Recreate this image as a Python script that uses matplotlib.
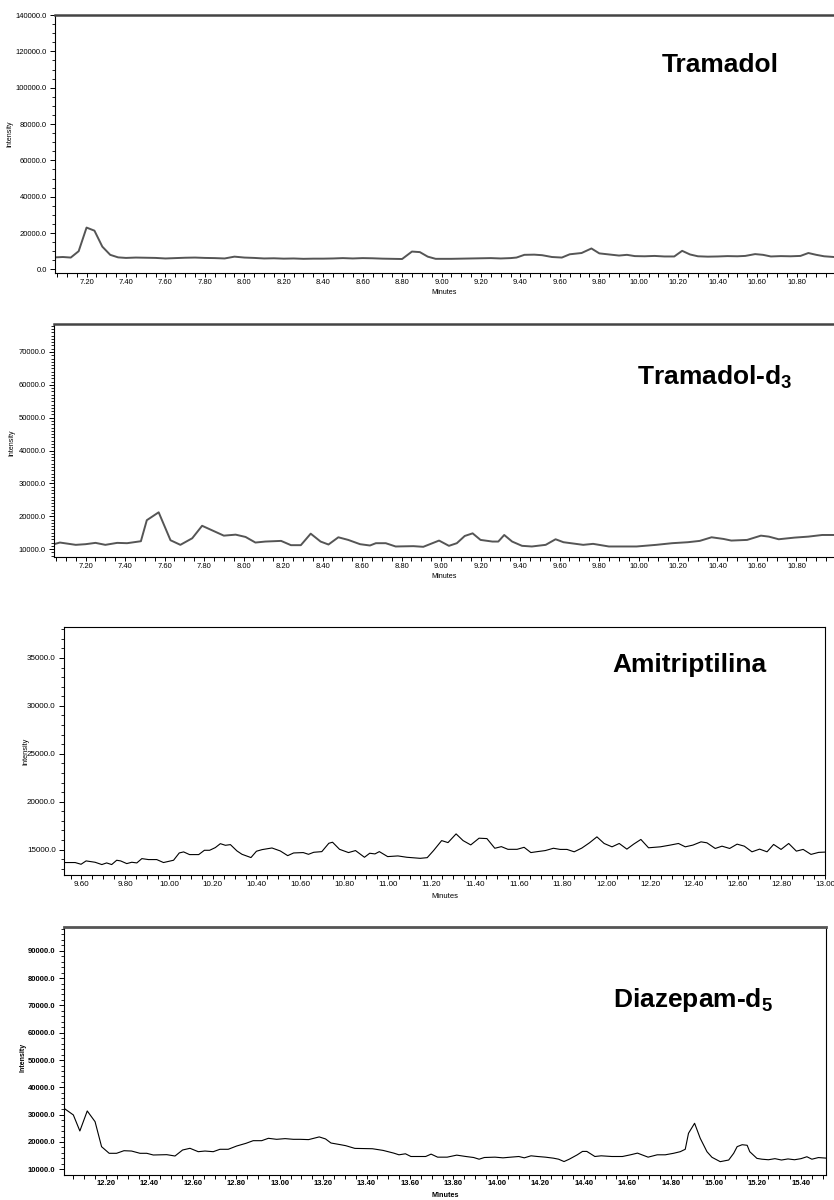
import numpy as np
import matplotlib.pyplot as plt
from matplotlib.ticker import MultipleLocator, FormatStrFormatter

# Tramadol
t1 = [7.04, 7.08, 7.12, 7.16, 7.20, 7.24, 7.28, 7.32, 7.36, 7.40,
      7.45, 7.50, 7.55, 7.60, 7.65, 7.70, 7.75, 7.80, 7.85, 7.90,
      7.95, 8.00, 8.05, 8.10, 8.15, 8.20, 8.25, 8.30, 8.35, 8.40,
      8.45, 8.50, 8.55, 8.60, 8.65, 8.70, 8.75, 8.80, 8.85, 8.89,
      8.93, 8.97, 9.05, 9.10, 9.15, 9.20, 9.25, 9.30, 9.35, 9.38,
      9.42, 9.47, 9.51, 9.56, 9.61, 9.65, 9.71, 9.76, 9.80, 9.85,
      9.90, 9.94, 9.98, 10.03, 10.08, 10.13, 10.18, 10.22, 10.26, 10.30,
      10.35, 10.40, 10.45, 10.50, 10.54, 10.59, 10.63, 10.67, 10.72, 10.77,
      10.82, 10.86, 10.90, 10.94, 10.99]
i1 = [6600, 6800, 6500, 10000, 23000, 21300, 12500, 8000, 6600, 6300,
      6500, 6400, 6300, 6000, 6200, 6400, 6500, 6300, 6200, 6000,
      7000, 6500, 6300, 6000, 6100, 5900, 6000, 5800, 5900, 5900,
      6000, 6200, 6000, 6200, 6100, 5900, 5800, 5700, 9800, 9500,
      7000, 5800, 5800, 5900, 6000, 6100, 6200, 6000, 6200, 6500,
      8000, 8100, 7800, 6800, 6500, 8300, 9000, 11500, 8800, 8200,
      7600, 8000, 7300, 7200, 7400, 7100, 7100, 10200, 8200, 7200,
      7000, 7100, 7300, 7200, 7400, 8400, 8000, 7100, 7300, 7200,
      7400, 9000, 8000, 7200, 6800]

# Tramadol-d3
t2 = [7.04, 7.07, 7.15, 7.20, 7.25, 7.30, 7.36, 7.41, 7.48, 7.51,
      7.57, 7.63, 7.68, 7.74, 7.79, 7.90, 7.96, 8.01, 8.06, 8.11,
      8.19, 8.24, 8.29, 8.34, 8.39, 8.43, 8.48, 8.53, 8.59, 8.64,
      8.67, 8.72, 8.77, 8.86, 8.91, 8.99, 9.04, 9.08, 9.12, 9.16,
      9.20, 9.26, 9.29, 9.32, 9.36, 9.41, 9.46, 9.53, 9.58, 9.62,
      9.72, 9.77, 9.85, 9.99, 10.09, 10.17, 10.25, 10.31, 10.37, 10.43,
      10.47, 10.55, 10.62, 10.66, 10.71, 10.79, 10.86, 10.93, 10.99]
i2 = [11500, 12000, 11300, 11500, 11900, 11300, 11900, 11800, 12400, 18800,
      21200, 12700, 11300, 13300, 17100, 14100, 14400, 13700, 12000, 12300,
      12500, 11200, 11200, 14700, 12300, 11400, 13600, 12800, 11500, 11100,
      11800, 11800, 10800, 10900, 10700, 12600, 11000, 11800, 14000, 14800,
      12800, 12300, 12300, 14300, 12300, 11000, 10800, 11300, 13000, 12100,
      11300, 11600, 10800, 10800, 11300, 11800, 12100, 12500, 13600, 13100,
      12600, 12800, 14100, 13800, 13000, 13500, 13800, 14300, 14300]

# Amitriptilina
t3 = [9.525, 9.571, 9.598, 9.621, 9.662, 9.693, 9.715, 9.738, 9.761, 9.779,
      9.807, 9.83, 9.853, 9.876, 9.906, 9.944, 9.975, 10.021, 10.047, 10.067,
      10.094, 10.136, 10.162, 10.186, 10.212, 10.235, 10.258, 10.281, 10.311, 10.334,
      10.375, 10.40, 10.426, 10.471, 10.509, 10.543, 10.57, 10.614, 10.638, 10.662,
      10.699, 10.731, 10.748, 10.78, 10.821, 10.853, 10.894, 10.918, 10.942, 10.962,
      11.00, 11.047, 11.088, 11.149, 11.181, 11.21, 11.247, 11.276, 11.313, 11.345,
      11.38, 11.418, 11.454, 11.49, 11.52, 11.55, 11.592, 11.624, 11.655, 11.685,
      11.721, 11.758, 11.789, 11.82, 11.853, 11.888, 11.923, 11.957, 11.99, 12.026,
      12.059, 12.094, 12.125, 12.158, 12.193, 12.247, 12.292, 12.33, 12.361, 12.396,
      12.433, 12.46, 12.498, 12.529, 12.564, 12.598, 12.631, 12.666, 12.701, 12.735,
      12.765, 12.799, 12.834, 12.869, 12.90, 12.936, 12.971, 13.00]
i3 = [13650, 13650, 13470, 13820, 13680, 13440, 13610, 13440, 13890, 13820,
      13540, 13680, 13610, 14060, 13960, 13960, 13650, 13890, 14650, 14760,
      14480, 14480, 14930, 14930, 15210, 15620, 15450, 15520, 14860, 14510,
      14170, 14830, 15000, 15170, 14860, 14370, 14650, 14690, 14510, 14720,
      14790, 15660, 15770, 15030, 14690, 14900, 14200, 14620, 14550, 14790,
      14270, 14340, 14200, 14090, 14160, 14900, 15940, 15730, 16640, 15940,
      15490, 16190, 16150, 15140, 15310, 15030, 15030, 15240, 14690, 14790,
      14900, 15140, 15020, 15020, 14770, 15160, 15710, 16330, 15640, 15290,
      15640, 15050, 15570, 16060, 15190, 15290, 15470, 15640, 15290, 15470,
      15810, 15710, 15120, 15360, 15120, 15570, 15360, 14770, 15050, 14770,
      15540, 15020, 15640, 14840, 15020, 14500, 14710, 14740]

# Diazepam-d5
t4 = [12.007, 12.05, 12.08, 12.114, 12.15, 12.18, 12.215, 12.249, 12.283, 12.318,
      12.357, 12.388, 12.418, 12.48, 12.518, 12.553, 12.587, 12.625, 12.656, 12.694,
      12.725, 12.763, 12.802, 12.845, 12.878, 12.917, 12.948, 12.986, 13.025, 13.063,
      13.094, 13.133, 13.182, 13.211, 13.236, 13.28, 13.304, 13.346, 13.427, 13.476,
      13.525, 13.549, 13.579, 13.604, 13.672, 13.697, 13.727, 13.771, 13.815, 13.857,
      13.893, 13.918, 13.942, 13.991, 14.028, 14.064, 14.101, 14.126, 14.157, 14.187,
      14.223, 14.26, 14.284, 14.309, 14.333, 14.37, 14.394, 14.414, 14.451, 14.48,
      14.529, 14.578, 14.615, 14.647, 14.696, 14.738, 14.775, 14.813, 14.844, 14.867,
      14.882, 14.91, 14.936, 14.967, 14.99, 15.028, 15.067, 15.09, 15.106, 15.129,
      15.152, 15.164, 15.197, 15.22, 15.25, 15.28, 15.31, 15.34, 15.37, 15.40,
      15.427, 15.45, 15.48, 15.515]
i4 = [32340, 29900, 24030, 31360, 27440, 18280, 15860, 15860, 16810, 16690,
      15860, 15860, 15240, 15360, 14870, 17070, 17690, 16450, 16690, 16450,
      17330, 17330, 18530, 19520, 20480, 20480, 21350, 20980, 21230, 20980,
      20980, 20870, 21860, 21120, 19630, 19010, 18650, 17660, 17530, 16920,
      15930, 15310, 15680, 14690, 14690, 15560, 14450, 14450, 15190, 14690,
      14320, 13700, 14320, 14450, 14200, 14450, 14690, 14200, 14940, 14690,
      14450, 14080, 13700, 12840, 13700, 15310, 16550, 16550, 14690, 14940,
      14690, 14690, 15310, 15930, 14450, 15310, 15310, 15860, 16450, 17330,
      23190, 26850, 21350, 16450, 14400, 12800, 13400, 15860, 18300, 19000,
      18800, 16450, 14000, 13700, 13500, 13900, 13400, 13800, 13500, 13900,
      14600, 13700, 14300, 14100]

W, H = 834, 1200
NARROW = ['Liberation Sans Narrow', 'Liberation Sans', 'DejaVu Sans']
ARIAL = ['Liberation Sans', 'DejaVu Sans']

plt.rcParams['mathtext.fontset'] = 'custom'
plt.rcParams['mathtext.rm'] = 'Liberation Sans:bold'
plt.rcParams['mathtext.it'] = 'Liberation Sans:bold'

fig = plt.figure(figsize=(W / 100, H / 100), dpi=100)


def rect(l, t, r, b):
    return [l / W, 1 - b / H, (r - l) / W, (b - t) / H]


def panel(box, t, y, xlim, ylim, ymaj, ymin, color, lw, fam, weight, size,
          topw, topc, right, ylab_xy, xlab_off):
    ax = fig.add_axes(rect(*box))
    ax.plot(t, y, color=color, lw=lw)
    ax.set_xlim(*xlim)
    ax.set_ylim(*ylim)
    ax.xaxis.set_major_locator(MultipleLocator(0.2))
    ax.xaxis.set_minor_locator(MultipleLocator(0.05))
    ax.yaxis.set_major_locator(MultipleLocator(ymaj))
    ax.yaxis.set_minor_locator(MultipleLocator(ymin))
    ax.xaxis.set_major_formatter(FormatStrFormatter('%.2f'))
    ax.yaxis.set_major_formatter(FormatStrFormatter('%.1f'))
    ax.tick_params(axis='x', which='both', direction='out', length=2.6,
                   width=0.7, labelsize=size, pad=1.5)
    ax.tick_params(axis='y', which='major', direction='out', length=3.5,
                   width=0.7, labelsize=size, pad=2.5)
    ax.tick_params(axis='y', which='minor', direction='out', length=2, width=0.6)
    plt.setp(ax.get_xticklabels() + ax.get_yticklabels(), family=fam,
             fontweight=weight)
    for s in ['left', 'bottom']:
        ax.spines[s].set_linewidth(0.8)
    ax.spines['top'].set_linewidth(topw)
    ax.spines['top'].set_color(topc)
    if right:
        ax.spines['right'].set_linewidth(0.8)
    else:
        ax.spines['right'].set_visible(False)
    ax.set_ylabel('Intensity', fontsize=size - 0.5, family=fam, fontweight=weight)
    ax.yaxis.set_label_coords(*ylab_xy)
    ax.set_xlabel('Minutes', fontsize=size - 0.3, family=fam, fontweight=weight,
                  va='center')
    ax.xaxis.set_label_coords(0.5, xlab_off)
    return ax


panel((55, 15, 834, 273), t1, i1, (7.04, 10.99), (-2000, 140000), 20000, 5000,
      '#555555', 1.4, NARROW, 'normal', 5.5, 1.8, '#444444', False,
      (-0.054, 0.54), -20 / 258)
panel((54, 324, 834, 557), t2, i2, (7.04, 10.99), (7600, 78500), 10000, 1000,
      '#555555', 1.4, NARROW, 'normal', 5.5, 1.8, '#444444', False,
      (-0.05, 0.49), -20 / 233)
panel((64, 627, 825, 875), t3, i3, (9.52, 13.0), (12350, 38230), 5000, 1000,
      'black', 0.8, ARIAL, 'normal', 5.8, 0.8, 'black', True,
      (-0.046, 0.5), -22 / 248)
panel((64, 927, 826, 1174.5), t4, i4, (12.007, 15.515), (8100, 98700), 10000, 2000,
      'black', 0.8, ARIAL, 'bold', 5.5, 2.0, '#555555', True,
      (-0.0486, 0.475), -21 / 247.5)

titles = [('Tramadol', 662, 72), (r'Tramadol-d$_3$', 637, 385),
          ('Amitriptilina', 612, 672), (r'Diazepam-d$_5$', 613, 1007)]
for s, x, y in titles:
    fig.text(x / W, 1 - y / H, s, ha='left', va='baseline', fontsize=19,
             fontweight='bold', family=NARROW)

plt.savefig('out.png', dpi=100)
